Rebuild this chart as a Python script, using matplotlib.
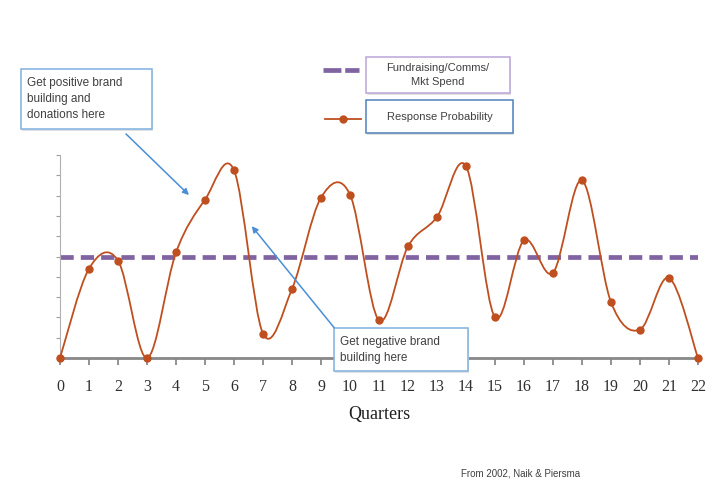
import numpy as np
import matplotlib
matplotlib.use("Agg")
import matplotlib.pyplot as plt
from matplotlib.path import Path
from matplotlib.patches import PathPatch, FancyBboxPatch, FancyArrowPatch
from matplotlib.lines import Line2D

# data (y scale 0..10, no labels shown)
quarters = list(range(23))
response = [0.0, 4.4, 4.8, 0.0, 5.2, 7.8, 9.25, 1.2, 3.4, 7.9, 8.05,
            1.85, 5.5, 6.95, 9.45, 2.0, 5.8, 4.2, 8.75, 2.75, 1.4, 3.95, 0.0]
spend = [5.0] * len(quarters)

curve_col = "#bf4f1f"
spend_col = "#8064a2"

W, H = 720, 491
fig = plt.figure(figsize=(W / 100, H / 100), dpi=100)
ax = fig.add_axes([60 / W, 1 - 358 / H, 638 / W, 203 / H])


def smooth_path(xs, ys):
    # Excel-style smoothed line: cubic bezier segments (catmull-rom tangents)
    pts = np.column_stack([xs, ys]).astype(float)
    verts = [pts[0]]
    codes = [Path.MOVETO]
    n = len(pts)
    for i in range(n - 1):
        p0 = pts[max(i - 1, 0)]
        p1 = pts[i]
        p2 = pts[i + 1]
        p3 = pts[min(i + 2, n - 1)]
        c1 = p1 + (p2 - p0) / 6.0
        c2 = p2 - (p3 - p1) / 6.0
        verts += [c1, c2, p2]
        codes += [Path.CURVE4] * 3
    return Path(verts, codes)


ax.plot(quarters, spend, color=spend_col, lw=3.4, dashes=(2.8, 1.5),
        solid_capstyle="butt", zorder=2)
ax.add_patch(PathPatch(smooth_path(quarters, response), fill=False,
                       edgecolor=curve_col, lw=1.3, zorder=3, clip_on=False))
ax.plot(quarters, response, ls="none", marker="o", ms=5,
        color=curve_col, zorder=4, clip_on=False)

ax.set_xlim(0, 22)
ax.set_ylim(0, 10)
ax.set_xticks(quarters)
ax.set_yticks(range(11))
ax.set_yticklabels([])
ax.set_xticklabels([str(q) for q in quarters], family="Liberation Serif",
                   fontsize=11.5, color="#303030")
ax.tick_params(axis="x", direction="out", length=5, width=1.2,
               color="#808080", pad=10)
ax.tick_params(axis="y", direction="out", length=3, width=0.8,
               color="#a0a0a0")
for s in ["top", "right"]:
    ax.spines[s].set_visible(False)
ax.spines["bottom"].set_color("#888888")
ax.spines["bottom"].set_linewidth(2)
ax.spines["left"].set_color("#b0b0b0")
ax.spines["left"].set_linewidth(0.8)
ax.set_xlabel("Quarters", family="Liberation Serif", fontsize=13,
              color="#202020", labelpad=8)


def px(x, y):
    return x / W, 1 - y / H


def box(x0, y0, x1, y1, ec):
    fx0, fy1 = px(x0, y1)
    fx1, fy0 = px(x1, y0)
    fig.patches.append(FancyBboxPatch((fx0 + 0.002, fy1 - 0.004),
                                      fx1 - fx0, fy0 - fy1,
                                      boxstyle="square,pad=0",
                                      transform=fig.transFigure,
                                      fc="#e2e2e2", ec="none", zorder=5))
    fig.patches.append(FancyBboxPatch((fx0, fy1), fx1 - fx0, fy0 - fy1,
                                      boxstyle="square,pad=0",
                                      transform=fig.transFigure,
                                      fc="white", ec=ec, lw=1.1, zorder=6))


txt_kw = dict(family="Liberation Sans", color="#404040", zorder=7)

# callout: positive
box(21, 69, 152, 129, "#7fb2e0")
fig.text(*px(27, 99), "Get positive brand\nbuilding and\ndonations here",
         fontsize=8.5, va="center", ha="left", linespacing=1.45, **txt_kw)
# callout: negative
box(334, 328, 468, 371, "#7fb2e0")
fig.text(*px(340, 350), "Get negative brand\nbuilding here",
         fontsize=8.5, va="center", ha="left", linespacing=1.45, **txt_kw)

arrow_kw = dict(arrowstyle="-|>", color="#4a8fd6", lw=1.1,
                mutation_scale=9)
fig.patches.append(FancyArrowPatch(px(124, 132), px(191, 197),
                                   transform=fig.transFigure, zorder=6,
                                   **arrow_kw))
fig.patches.append(FancyArrowPatch(px(336, 330), px(250, 224),
                                   transform=fig.transFigure, zorder=6,
                                   **arrow_kw))

# legend
box(366, 57, 510, 93, "#b9a6d8")
fig.text(*px(438, 75), "Fundraising/Comms/\nMkt Spend", fontsize=8,
         ha="center", va="center", linespacing=1.45, **txt_kw)
box(366, 100, 513, 133, "#4f81bd")
fig.text(*px(439.5, 117), "Response Probability", fontsize=8,
         ha="center", va="center", **txt_kw)
lx0, ly0 = px(323, 70)
lx1, _ = px(359, 70)
fig.lines.append(Line2D([lx0, lx1], [ly0, ly0], transform=fig.transFigure,
                        color=spend_col, lw=3.4, dashes=(3.8, 0.8),
                        solid_capstyle="butt"))
lx0, ly1 = px(325, 119)
lx1, _ = px(361, 119)
fig.lines.append(Line2D([lx0, lx1], [ly1, ly1], transform=fig.transFigure,
                        color=curve_col, lw=1.3))
fig.lines.append(Line2D([(lx0 + lx1) / 2], [ly1], transform=fig.transFigure,
                        color=curve_col, marker="o", ms=5))

fig.text(*px(521, 474), "From 2002, Naik & Piersma", fontsize=7,
         ha="center", va="center", **txt_kw)

fig.savefig("out.png", dpi=100)
